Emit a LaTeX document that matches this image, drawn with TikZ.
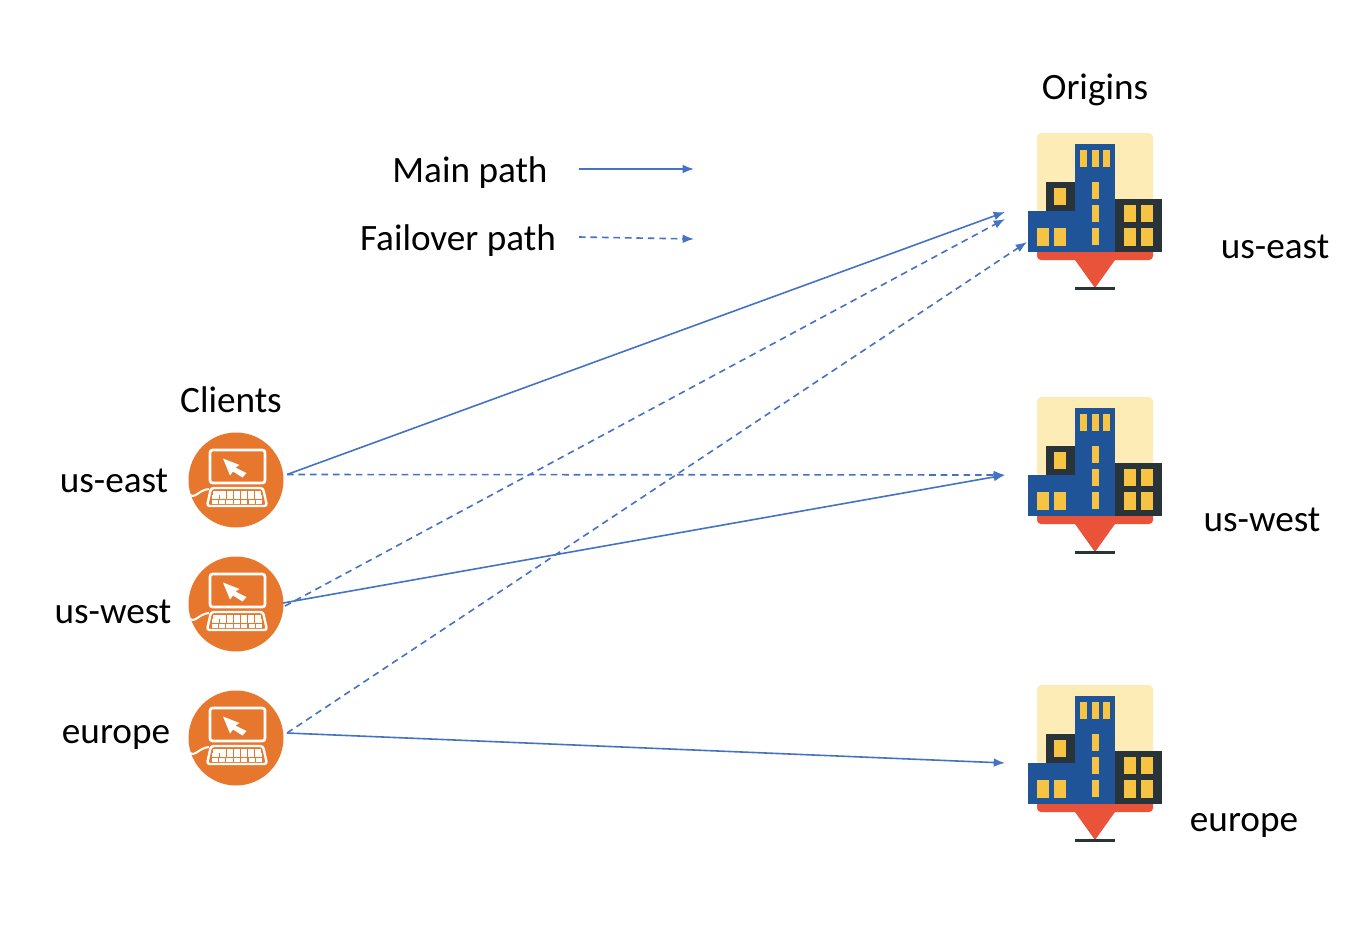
\documentclass[tikz,border=0pt]{standalone}
\usepackage{fontspec}
\setmainfont{Carlito}
\usetikzlibrary{arrows.meta}
\definecolor{pathblue}{HTML}{4472C4}
\definecolor{clientorange}{HTML}{E8772E}
\definecolor{skycream}{HTML}{FDECB5}
\definecolor{towerblue}{HTML}{1F5499}
\definecolor{darkblock}{HTML}{29343A}
\definecolor{windowyellow}{HTML}{F7C343}
\definecolor{pinred}{HTML}{E9533A}
\tikzset{
  lbl/.style={inner sep=0pt,font=\fontsize{27.9}{28}\selectfont},
  client/.style={circle,fill=clientorange,minimum size=95*0.75pt,inner sep=0pt},
  mainpath/.style={->,pathblue,line width=1.2pt},
  failpath/.style={->,pathblue,line width=1.2pt,dash pattern=on 5pt off 3.6pt},
  pics/clienticon/.style={code={
    \draw[white,line width=2pt,rounded corners=2pt] (-26,-30) rectangle (29,3);
    \draw[white,line width=1.8pt,rounded corners=2pt] (-25,8) -- (27,8) -- (31,26) -- (-29,26) -- cycle;
    \fill[white] (-13,-21.5) -- (3.5,-15) -- (-0.5,-12.5) -- (10.5,-7) -- (6.5,-2.5) -- (-3,-8.5) -- (-6,-4.5) -- cycle;
    \draw[white,line width=1.5pt] (-47,14) .. controls (-41,20) and (-38,10) .. (-27,9);
    \foreach \r in {0,1,2} {
      \foreach \k in {0,...,6} {
        \fill[white] ({-22.7-\r*0.9+\k*(6.9+\r*0.25)},{10.6+\r*4.6}) rectangle ++(6.2,4);
      }
    }
  }},
  pics/originicon/.style={code={
    % coordinates from the top of the sky block, middle of the tower
    \fill[skycream,rounded corners=3pt] (-58,0) rectangle (58,127);
    \fill[pinred,rounded corners=3pt] (-58,112) rectangle (58,127);
    \fill[pinred] (-20,127) -- (20,127) -- (0,155) -- cycle;
    \fill[darkblock] (-20,153.5) rectangle (20,156.5);
    \fill[towerblue] (-20,11) rectangle (20,119);
    \fill[towerblue] (-67,78) rectangle (-20,119);
    \fill[darkblock] (-49,49) rectangle (-20,78);
    \fill[darkblock] (20,66) rectangle (67,119);
    \fill[windowyellow] (-41,55) rectangle (-29,72);
    \foreach \x in {-15,-3,8} {\fill[windowyellow] (\x,17) rectangle ++(6.5,17);}
    \foreach \y in {49,72,95} {\fill[windowyellow] (-3,\y) rectangle ++(6.5,17);}
    \foreach \x in {-58,-41,29,46} {\fill[windowyellow] (\x,95) rectangle ++(12,18);}
    \foreach \x in {29,46} {\fill[windowyellow] (\x,72) rectangle ++(12,17);}
  }}
}
\begin{document}
\begin{tikzpicture}[x=0.75pt,y=-0.75pt,>={Latex[length=8.5pt,width=6.5pt]}]
\useasboundingbox (0,0) rectangle (1370,928);
% clients
\node[client] (cEast) at (236,480) {};
\node[client] (cWest) at (236,604) {};
\node[client] (cEurope) at (236,738) {};
\pic at (236,480) {clienticon};
\pic at (236,604) {clienticon};
\pic at (236,738) {clienticon};
% origins
\pic at (1095,133) {originicon};
\pic at (1095,397) {originicon};
\pic at (1095,685) {originicon};
% labels
\node[lbl] (tOrigins) at (1095,90) {Origins};
\node[lbl] (tClients) at (231,399.5) {Clients};
\node[lbl] (tMain) at (470,173) {Main path};
\node[lbl] (tFail) at (458,240.5) {Failover path};
\node[lbl] (tcEast) at (114,481) {us-east};
\node[lbl] (tcWest) at (113,612) {us-west};
\node[lbl] (tcEurope) at (116,737) {europe};
\node[lbl] (toEast) at (1275,247) {us-east};
\node[lbl] (toWest) at (1262,520) {us-west};
\node[lbl] (toEurope) at (1244,825.5) {europe};
% connector ends
\coordinate (mainA) at (579,169);
\coordinate (mainB) at (694,169);
\coordinate (failA) at (579,237);
\coordinate (failB) at (694,239);
\coordinate (outEast) at (287,474.5);
\coordinate (outWestA) at (283,603);
\coordinate (outWestB) at (285,606);
\coordinate (outEurope) at (287,733);
\coordinate (inEastA) at (1005,212);
\coordinate (inEastB) at (1005,219);
\coordinate (inEastC) at (1027,242);
\coordinate (inWest) at (1005,475);
\coordinate (inEurope) at (1005,763);
% paths
\draw[mainpath] (mainA) -- (mainB);
\draw[failpath] (failA) -- (failB);
\draw[mainpath] (outEast) -- (inEastA);
\draw[failpath] (outEast) -- (inWest);
\draw[mainpath] (outWestA) -- (inWest);
\draw[failpath] (outWestB) -- (inEastB);
\draw[mainpath] (outEurope) -- (inEurope);
\draw[failpath] (outEurope) -- (inEastC);
\end{tikzpicture}
\end{document}
